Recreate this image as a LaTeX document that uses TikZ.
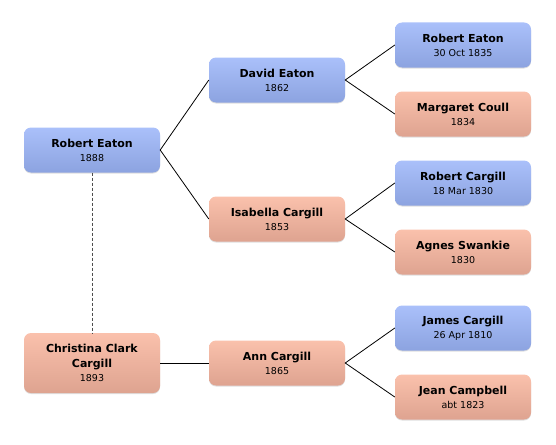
\documentclass[tikz,border=0pt]{standalone}
\usepackage{fontspec}
\setmainfont{DejaVu Sans}
\usetikzlibrary{shadows}
\definecolor{MaleTop}{RGB}{170,192,250}
\definecolor{MaleBot}{RGB}{140,163,224}
\definecolor{FemaleTop}{RGB}{250,193,172}
\definecolor{FemaleBot}{RGB}{222,163,144}
\newcommand{\pname}[1]{\textbf{\fontsize{11}{13}\selectfont #1}}
\newcommand{\person}[5]{%
    \node[#1] (#2) at #3 {#4\\[3pt]#5};
}
\begin{document}
\begin{tikzpicture}[x=1pt,y=-1pt,
    card/.style={rounded corners=7pt,minimum width=136pt,minimum height=45pt,
        align=center,inner sep=2pt,font=\fontsize{9.5}{11}\selectfont,
        drop shadow={shadow xshift=0pt,shadow yshift=-1pt,opacity=0.25}},
    male/.style={card,top color=MaleTop,bottom color=MaleBot},
    female/.style={card,top color=FemaleTop,bottom color=FemaleBot},
    link/.style={black,line width=0.8pt}]
    \useasboundingbox (0,0) rectangle (556,444);
    % generations, left to right
    \person{male}{robert}{(92,150)}{\pname{Robert Eaton}}{1888}
    \person{female,minimum height=60pt}{christina}{(92,363)}{\pname{Christina Clark}\\[4pt]\pname{Cargill}}{1893}
    \person{male}{david}{(277,80)}{\pname{David Eaton}}{1862}
    \person{female}{isabella}{(277,219)}{\pname{Isabella Cargill}}{1853}
    \person{female}{ann}{(277,363)}{\pname{Ann Cargill}}{1865}
    \person{male}{roberte}{(463,45)}{\pname{Robert Eaton}}{30 Oct 1835}
    \person{female}{margaret}{(463,114)}{\pname{Margaret Coull}}{1834}
    \person{male}{robertc}{(463,183)}{\pname{Robert Cargill}}{18 Mar 1830}
    \person{female}{agnes}{(463,252)}{\pname{Agnes Swankie}}{1830}
    \person{male}{james}{(463,328)}{\pname{James Cargill}}{26 Apr 1810}
    \person{female}{jean}{(463,397)}{\pname{Jean Campbell}}{abt 1823}
    % parent links
    \draw[link] (david.west) -- (robert.east) -- (isabella.west);
    \draw[link] (roberte.west) -- (david.east) -- (margaret.west);
    \draw[link] (robertc.west) -- (isabella.east) -- (agnes.west);
    \draw[link] (james.west) -- (ann.east) -- (jean.west);
    \draw[link] (christina.east) -- (ann.west);
    % marriage
    \draw[gray!60!black,line width=0.9pt,dash pattern=on 3pt off 2pt] (robert.south) -- (christina.north);
\end{tikzpicture}
\end{document}
